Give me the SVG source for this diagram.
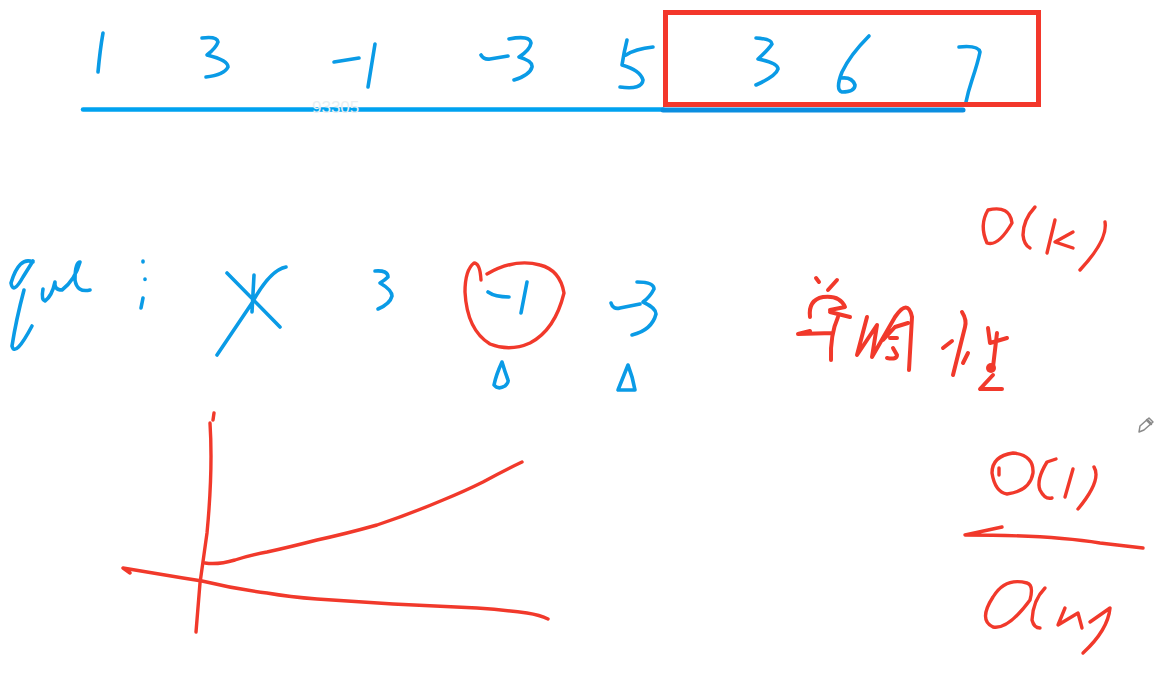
<svg xmlns="http://www.w3.org/2000/svg" width="1168" height="690" viewBox="0 0 1168 690">
<style>
path{fill:none;stroke-linecap:round;stroke-linejoin:round}
.b path{stroke:#0a9be6;stroke-width:3.600}
.r path{stroke:#f1392b;stroke-width:3.400}
.r path.k{stroke-width:4}
</style>
<rect width="1168" height="690" fill="#fff"/>
<g id="array" class="b">
<path d="M103 33Q100 50 98 72"/>
<path d="M202 38Q217 36 218 42Q216 48 207 55Q228 60 228 67Q224 75 206 77"/>
<path d="M334 62L359 58M375 44L368 87"/>
<path d="M481 55Q484 60 490 59L508 56M509 39Q530 35 531 43Q530 50 519 57Q533 61 532 67Q530 75 514 80"/>
<path d="M627 40Q624 52 622 65Q640 70 643 80Q642 90 620 87M653 47Q635 49 626 55"/>
<path d="M756 38Q772 39 772 44Q768 50 758 59Q778 63 778 69Q776 76 756 85"/>
<path d="M869 36Q850 55 842 72Q835 90 842 92Q855 92 855 85Q852 77 842 78"/>
<path d="M959 47Q978 45 980 52Q978 62 972 80Q968 92 966 102"/>
</g>
<path id="underline" d="M83 109.500H663" fill="none" stroke="#00a2f0" stroke-width="4.500" stroke-linecap="round"/>
<path id="underline-dark" d="M663 110H963" fill="none" stroke="#0b8ee0" stroke-width="5" stroke-linecap="round"/>
<rect id="window" x="665.500" y="12.500" width="373" height="92" fill="none" stroke="#f3372b" stroke-width="5"/>
<text x="312" y="113" font-family="Liberation Sans, Arial, sans-serif" font-size="17" fill="#e9eff3">93305</text>
<g id="queue" class="b">
<path d="M33 262Q19 256 11 283Q13 295 23 277L33 261M24 290Q16 320 12 346Q15 358 32 326"/>
<path d="M43 289Q41 300 45 301Q52 296 55 282Q54 290 62 290Q75 280 80 262Q75 262 75 280Q77 293 90 290"/>
<path d="M143 261V262M145 279V279.500M143 298L141 308"/>
<path d="M227 273L280 327M286 267Q270 270 252 303L217 355M254 275L252 312"/>
<path d="M375 271Q388 270 388 277Q385 280 380 283Q392 290 392 296Q390 304 378 309"/>
<path d="M488 292Q495 297 509 297M527 282L521 313"/>
<path d="M611 303Q613 310 620 308L640 304M637 282Q654 282 654 289Q650 297 643 302Q656 308 656 314Q652 330 632 335"/>
<path d="M502 362Q496 375 494 385Q498 390 505 386Q509 382 508 380Q505 372 502 362Z" stroke-width="4.500"/>
<path d="M628 365L618 390H635Q633 378 628 365Z"/>
</g>
<g id="notes" class="r">
<path d="M481 280Q480 263 474 263Q465 270 465 292Q467 330 490 344Q510 352 530 343Q555 330 564 293Q560 270 540 265Q515 258 487 274"/>
<path d="M988 210Q979 225 987 243Q998 247 1012 223Q1010 205 988 210"/>
<path d="M1035 207Q1023 220 1023 235Q1024 245 1030 248"/>
<path d="M1055 220L1047 253M1073 232L1055 242L1073 248"/>
<path d="M1105 222Q1108 240 1080 270"/>
<path class="k" d="M816 278L819 282M837 280L828 290M810 317Q808 300 823 297Q840 295 845 307L830 310M830 312L850 317M838 317Q830 335 831 360M833 333L798 334L810 331"/>
<path class="k" d="M867 317L857 355L877 325L872 357L895 317Q908 298 912 317L909 370M883 340L895 327L908 323M890 338H897M887 358Q897 360 897 355L893 348"/>
<path class="k" d="M962 312Q967 320 965 327L953 375M943 348L952 341M968 353L963 363"/>
<path class="k" d="M988 328L990 343L1007 338M997 333L993 367M993 375L980 389H1002"/>
<circle cx="991" cy="368" r="5" fill="#f1392b"/>
<path d="M999 475L999 468M1013 453Q992 456 992 473Q995 492 1007 494Q1030 491 1033 473Q1034 455 1013 453"/>
<path d="M1056 459L1047 462Q1036 480 1040 490Q1045 500 1052 498"/>
<path d="M1073 469L1065 497"/>
<path d="M1094 467Q1102 480 1078 509"/>
<path d="M1002 527L965 535Q1050 535 1100 543L1143 548"/>
<path d="M1027 583Q1005 577 993 597Q978 620 993 627Q1008 630 1030 600Q1034 585 1027 583"/>
<path d="M1045 588Q1033 600 1032 620Q1034 628 1040 628"/>
<path d="M1065 608L1058 625L1078 613L1082 628"/>
<path d="M1090 622L1110 608Q1108 630 1083 653"/>
</g>
<g id="chart" class="r">
<path d="M214 413L213 420M210 423Q213 470 207 533L200 583L196 632"/>
<path d="M205 563Q218 565 235 560Q250 555 267 552Q290 547 317 540Q345 534 377 525Q410 514 443 500Q465 491 483 482Q505 470 522 462"/>
<path d="M130 573L123 568L183 578L202 581Q235 589 267 593Q290 597 317 599L393 604L477 608Q505 610 527 613Q540 615 548 619"/>
</g>
<g id="pencil" fill="none" stroke="#8a8a8a" stroke-width="1.500">
<path d="M1139 432L1140 426L1149 418L1153 422L1144 430Z"/>
<path d="M1147 420L1151 424" stroke-width="2.500"/>
</g>
</svg>
